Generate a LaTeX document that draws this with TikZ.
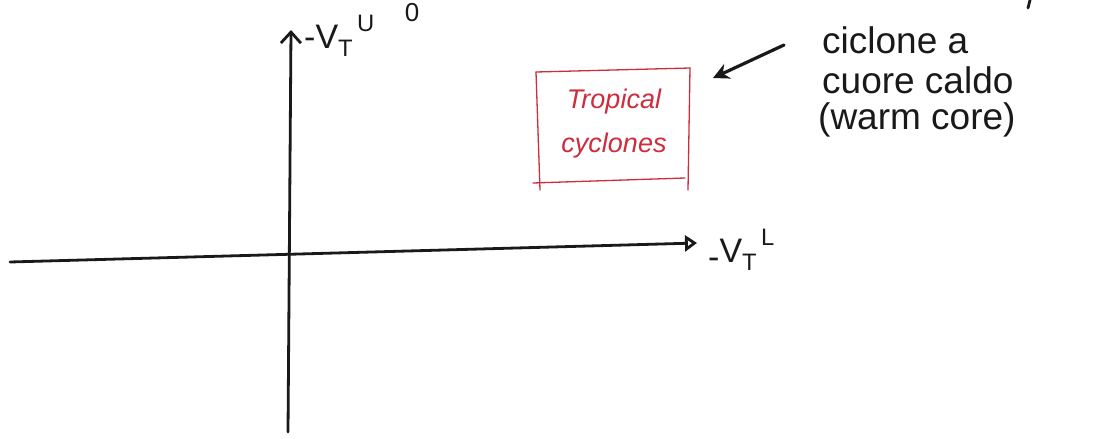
\documentclass[tikz,border=0pt]{standalone}
\usepackage{fontspec}
\setmainfont{Liberation Sans}
\usetikzlibrary{arrows.meta}
\definecolor{pen}{RGB}{25,25,25}
\definecolor{redpen}{RGB}{205,45,60}
\begin{document}
\begin{tikzpicture}[x=1pt,y=-1pt,
  axis/.style={line width=2.8pt,draw=pen,line cap=round},
  lbl/.style={text=pen,inner sep=0pt,font=\fontsize{34}{36}\selectfont},
  note/.style={text=pen,inner sep=0pt,anchor=west,font=\fontsize{37}{39}\selectfont},
  redtxt/.style={text=redpen,inner sep=0pt,font=\itshape\fontsize{27}{29}\selectfont},
  redline/.style={draw=redpen,line width=1.3pt,line cap=round}]
\useasboundingbox (0,0) rectangle (1098,439);
% axes
\coordinate (ys) at (288,432);
\coordinate (ye) at (291,30);
\coordinate (xs) at (10,262);
\coordinate (xe) at (697,243);
\draw[axis,-{Straight Barb[length=11pt,width=20pt,line width=2.8pt]}] (ys) -- (ye);
\draw[axis,-{Triangle[open,length=12pt,width=16pt,line width=2.8pt]}] (xs) -- (xe);
% axis labels
\node[lbl,anchor=west] (ylab) at (304,36) {-V\textsubscript{T}\raisebox{8pt}{\textsuperscript{\,U}}};
\node[lbl,font=\fontsize{26}{28}\selectfont] (yzero) at (412,13) {0};
\node[lbl,anchor=west] (xlab) at (708,250) {\raisebox{-6pt}{-}V\textsubscript{T}\raisebox{8pt}{\textsuperscript{\,L}}};
% red box
\coordinate (b1) at (536,72);
\coordinate (b2) at (690,68);
\coordinate (b3) at (688,190);
\coordinate (b4) at (540,183);
\draw[redline] (b1) -- (b2);
\draw[redline] (b1) -- (540,190);
\draw[redline] (b2) -- (b3);
\draw[redline] (533,183) -- (685,178);
\node[redtxt] (t1) at (614,102) {Tropical};
\node[redtxt] (t2) at (614,146) {cyclones};
% annotation
\node[note] (n1) at (822,40) {ciclone a};
\node[note] (n2) at (822,80) {cuore caldo};
\node[note] (n3) at (818,120) {(warm core)};
\coordinate (tick1) at (1030,0);
\coordinate (tick2) at (1028,8);
\draw[axis] (tick1) -- (tick2);
\draw[axis,line width=3.2pt,-{Stealth[length=16pt,width=16pt]}] (n1.west) ++(-38,5) coordinate (as) -- (713,78);
\end{tikzpicture}
\end{document}
